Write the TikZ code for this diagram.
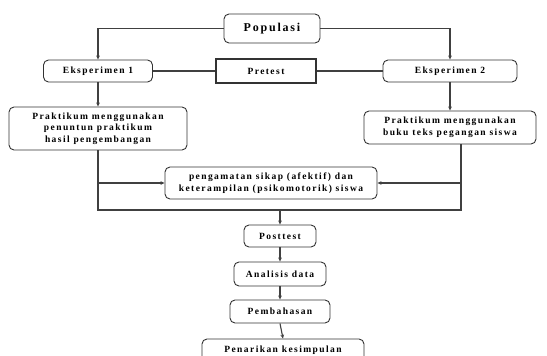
\documentclass[tikz,border=0pt]{standalone}
\usepackage{fontspec}
\newfontfamily\lblfont[LetterSpace=15]{Liberation Serif}
\usetikzlibrary{arrows.meta}
\begin{document}
\begin{tikzpicture}[x=1pt,y=-1pt,
  box/.style={draw=black!80, line width=0.9pt, rounded corners=5pt, align=center, inner sep=0pt,
    font=\lblfont\bfseries\fontsize{9.5}{11.5}\selectfont, text=black},
  sqbox/.style={box, rounded corners=0pt, line width=1.3pt},
  bigbox/.style={box, font=\lblfont\bfseries\fontsize{12}{14}\selectfont},
  conn/.style={draw=black!75, line width=1.1pt},
  arr/.style={conn, -{Stealth[length=4pt,width=3.6pt]}}]
\useasboundingbox (0,0) rectangle (547,356);
\node[bigbox, minimum width=96pt, minimum height=29pt] (pop) at (272,28.5) {Populasi};
\node[box, minimum width=109pt, minimum height=22pt] (e1) at (98,71) {Eksperimen 1};
\node[sqbox, minimum width=100pt, minimum height=24pt] (pre) at (266,71) {Pretest};
\node[box, minimum width=134pt, minimum height=22pt] (e2) at (450,71) {Eksperimen 2};
\node[box, minimum width=178pt, minimum height=43pt] (pl) at (98,128.5) {Praktikum menggunakan\\penuntun praktikum\\hasil pengembangan};
\node[box, minimum width=172pt, minimum height=33pt] (pr) at (450,127.5) {Praktikum menggunakan\\buku teks pegangan siswa};
\node[box, minimum width=212pt, minimum height=32pt] (obs) at (271,183) {pengamatan sikap (afektif) dan\\keterampilan (psikomotorik) siswa};
\node[box, minimum width=72pt, minimum height=22pt] (post) at (280,236) {Posttest};
\node[box, minimum width=92pt, minimum height=24pt] (ana) at (280,274) {Analisis data};
\node[box, minimum width=100pt, minimum height=23pt] (pem) at (280,311.5) {Pembahasan};
\node[box, minimum width=162pt, minimum height=22pt] (pen) at (283,350) {Penarikan kesimpulan};
\coordinate (jl) at (98,210);
\coordinate (jr) at (461,210);
\coordinate (jrt) at (461,144);
\coordinate (jm) at (280,210);
\draw[arr] (pop.west) -| (e1.north);
\draw[arr] (pop.east) -| (e2.north);
\draw[conn] (e1.east) -- (pre.west);
\draw[conn] (pre.east) -- (e2.west);
\draw[arr] (e1.south) -- (pl.north);
\draw[arr] (e2.south) -- (pr.north);
\draw[conn] (pl.south) -- (jl) -- (jr) -- (jrt);
\draw[arr] (obs.west -| jl) -- (obs.west);
\draw[arr] (obs.east -| jr) -- (obs.east);
\draw[arr] (jm) -- (post.north);
\draw[arr] (post.south) -- (ana.north);
\draw[arr] (ana.south) -- (pem.north);
\draw[arr] (pem.south) -- (pen.north);
\end{tikzpicture}
\end{document}
